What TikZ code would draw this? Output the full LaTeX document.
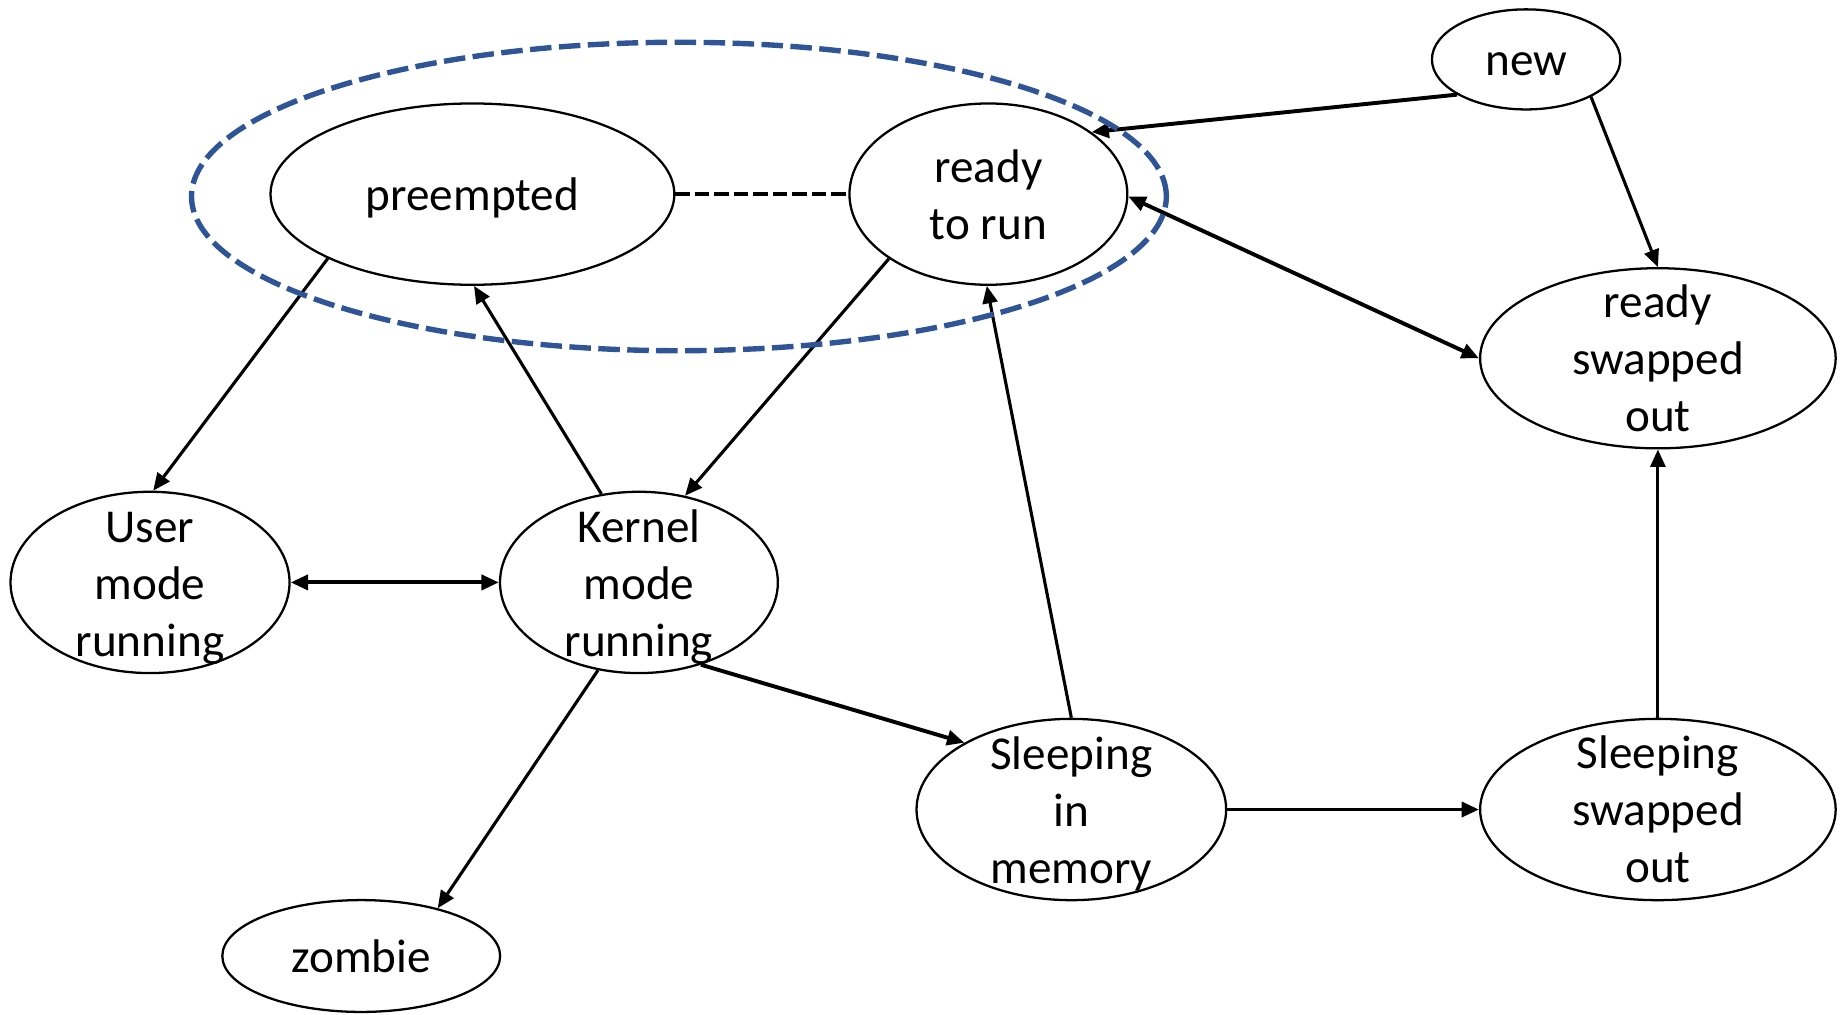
\documentclass[tikz,border=0pt]{standalone}
\usepackage{fontspec}
\setmainfont{Carlito}
\usetikzlibrary{shapes.geometric,arrows.meta}
\definecolor{dashblue}{RGB}{47,85,151}
\begin{document}
\begin{tikzpicture}[x=0.01cm,y=-0.01cm,
  st/.style={draw, ellipse, line width=0.55pt, inner sep=0pt},
  lbl/.style={align=center, inner sep=0pt, yshift=-1.1pt, font=\fontsize{11.4pt}{13.8pt}\selectfont},
  arr/.style={-{Triangle[length=4.2pt,width=3.6pt]}, line width=0.95pt},
  arrthin/.style={-{Triangle[length=4.2pt,width=3.6pt]}, line width=0.75pt},
  dbl/.style={{Triangle[length=4.2pt,width=3.6pt]}-{Triangle[length=4.2pt,width=3.6pt]}, line width=0.95pt},
  dashlink/.style={line width=0.85pt, dash pattern=on 3.5pt off 1.2pt},
  group/.style={draw=dashblue, line width=1.3pt, dash pattern=on 5.2pt off 1.8pt}
]
\useasboundingbox (0,0) rectangle (1568,862);

\node[st, minimum width=1.60cm, minimum height=0.85cm, label={[lbl]center:new}] (new) at (1297,50.5) {};
\node[st, minimum width=3.43cm, minimum height=1.54cm, label={[lbl,yshift=0.3pt]center:preempted}] (pre) at (401.5,165) {};
\node[st, minimum width=2.36cm, minimum height=1.54cm, label={[lbl,yshift=0.85pt]center:{ready\\to run}}] (rtr) at (840,165) {};
\node[st, minimum width=3.02cm, minimum height=1.53cm, label={[lbl,yshift=1.1pt]center:{ready\\swapped\\out}}] (rso) at (1409,304.5) {};
\node[st, minimum width=2.37cm, minimum height=1.54cm, label={[lbl,yshift=-0.3pt]center:{User\\mode\\running}}] (usr) at (127.5,495) {};
\node[st, minimum width=2.36cm, minimum height=1.54cm, label={[lbl]center:{Kernel\\mode\\running}}] (ker) at (543,495) {};
\node[st, minimum width=2.63cm, minimum height=1.54cm, label={[lbl]center:{Sleeping\\in\\memory}}] (sim) at (910.5,688) {};
\node[st, minimum width=3.02cm, minimum height=1.54cm, label={[lbl,yshift=1.1pt]center:{Sleeping\\swapped\\out}}] (sso) at (1409,688) {};
\node[st, minimum width=2.36cm, minimum height=0.95cm, label={[lbl,yshift=1pt]center:zombie}] (zom) at (307,812.5) {};

\draw[arr] (new.207.4) -- (rtr.31.9);
\draw[arrthin] (new.330.6) -- (rso.north);
\draw[dbl] (rtr.359) -- (rso.west);
\draw[dashlink] (pre.east) -- (rtr.west);
\draw[arrthin] (pre.204.5) -- (usr.88);
\draw[arrthin] (ker.113) -- (pre.271);
\draw[arrthin] (rtr.213.2) -- (ker.62.5);
\draw[dbl] (usr.east) -- (ker.west);
\draw[arr] (ker.307.6) -- (sim.148.8);
\draw[arrthin] (sim.north) -- (rtr.269);
\draw[arrthin] (ker.245.6) -- (zom.32);
\draw[arr] (sim.east) -- (sso.west);
\draw[arrthin] (sso.north) -- (rso.south);

\draw[group] (577,167) ellipse [x radius=4.14cm, y radius=1.31cm];
\end{tikzpicture}
\end{document}
